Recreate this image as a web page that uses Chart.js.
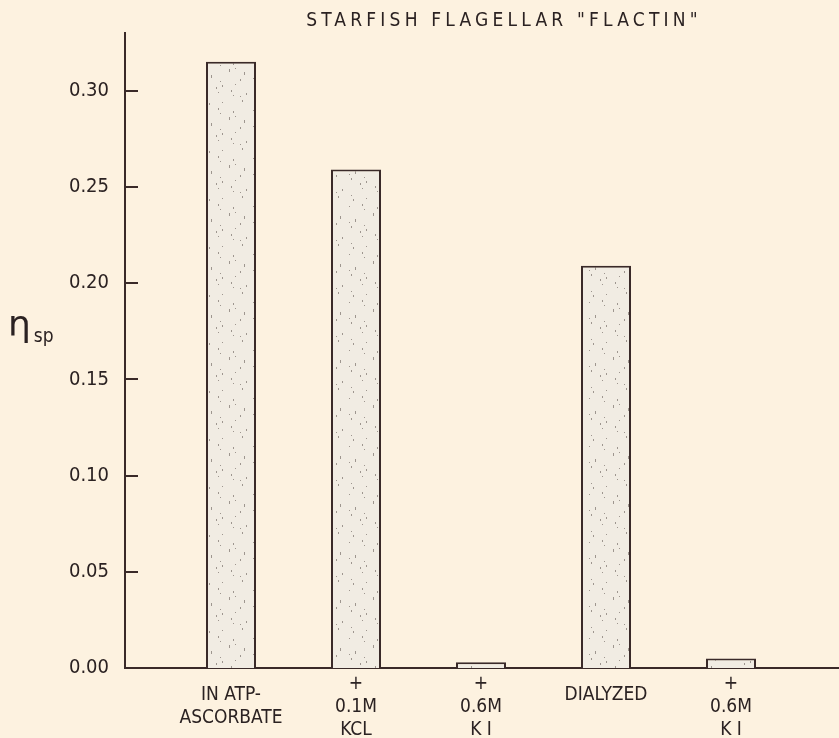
<!DOCTYPE html>
<html>
<head>
<meta charset="utf-8">
<script src="https://cdn.jsdelivr.net/npm/chart.js@4.4.0/dist/chart.umd.min.js"></script>
<style>
  html, body { margin: 0; padding: 0; background: #fdf2e0; }
  #wrap { position: relative; width: 839px; height: 738px; }
  #wrap canvas { position: absolute; left: 0; top: 0; }
  .title {
    position: absolute; left: 504px; top: 8px; transform: translateX(-50%);
    font-family: 'Liberation Sans Narrow', 'DejaVu Sans Condensed', sans-serif;
    font-size: 19px; letter-spacing: 4.2px; color: #2b2222; white-space: nowrap;
  }
  .ylabel {
    position: absolute; left: 8px; top: 306px;
    font-family: 'DejaVu Sans', sans-serif; font-size: 36px; color: #2b2222; line-height: 1;
  }
  .ylabel sub {
    font-family: 'Liberation Sans Narrow', 'DejaVu Sans Condensed', sans-serif;
    font-size: 19px; margin-left: 3px; vertical-align: -6px;
  }
</style>
</head>
<body>
<div id="wrap">
  <canvas id="flactinChart"></canvas>
  <div class="title">STARFISH FLAGELLAR "FLACTIN"</div>
  <div class="ylabel">η<sub>sp</sub></div>
</div>
<script>
// conditions along the x axis (one entry per bar, lines of the label)
const categories = [
    ['IN ATP-', 'ASCORBATE'],
    ['+', '0.1M', 'KCL'],
    ['+', '0.6M', 'K I'],
    ['DIALYZED'],
    ['+', '0.6M', 'K I']
];
// specific viscosity
const etaSp = [0.315, 0.259, 0.003, 0.209, 0.005];
// y axis range and step
const yRange = [0, 0.33];
const yStep = 0.05;

const ink = '#3a2a29';
const textInk = '#2b2222';
const narrowFont = "'Liberation Sans Narrow', 'DejaVu Sans Condensed', sans-serif";

// light stipple for the bars
function makeStipple() {
    const c = document.createElement('canvas');
    c.width = 48; c.height = 48;
    const g = c.getContext('2d');
    g.fillStyle = '#f1ece3';
    g.fillRect(0, 0, 48, 48);
    g.fillStyle = 'rgba(90, 80, 75, 0.55)';
    for (let k = 0; k < 40; k++) {
        const x = (k * 17 + (k % 5) * 7) % 48;
        const y = (k * 29 + (k % 3) * 11) % 48;
        g.fillRect(x, y, 1, 1);
    }
    return g.createPattern(c, 'repeat');
}

// short tick marks pointing into the plot, as in the original
const innerTicks = {
    id: 'innerTicks',
    afterDatasetsDraw(chart) {
        const y = chart.scales.y;
        const left = chart.chartArea.left;
        const ctx = chart.ctx;
        ctx.save();
        ctx.strokeStyle = ink;
        ctx.lineWidth = 2;
        y.ticks.forEach(t => {
            if (t.value === 0) return;
            const py = Math.round(y.getPixelForValue(t.value));
            ctx.beginPath();
            ctx.moveTo(left, py);
            ctx.lineTo(left + 13, py);
            ctx.stroke();
        });
        ctx.restore();
    }
};

document.addEventListener('DOMContentLoaded', () => {
    const ctx = document.getElementById('flactinChart');
    window.flactinChart = new Chart(ctx, {
        type: 'bar',
        data: {
            datasets: [{
                label: 'ηsp',
                data: etaSp.map((v, i) => ({ x: i + 1, y: v })),
                backgroundColor: makeStipple(),
                borderColor: ink,
                borderWidth: 2,
                barPercentage: 0.4,
                categoryPercentage: 1
            }]
        },
        options: {
            responsive: true,
            maintainAspectRatio: false,
            animation: false,
            layout: { padding: { top: 33, right: 0, bottom: 0, left: 0 } },
            plugins: {
                legend: { display: false },
                tooltip: { enabled: false }
            },
            scales: {
                x: {
                    type: 'linear',
                    offset: false,
                    min: 0.152,
                    max: 5.864,
                    grid: { display: false, drawTicks: false },
                    border: { color: ink, width: 2 },
                    afterFit: s => { s.height = 70; },
                    ticks: {
                        stepSize: 1,
                        includeBounds: false,
                        autoSkip: false,
                        maxRotation: 0,
                        crossAlign: 'center',
                        padding: 16,
                        color: textInk,
                        font: { family: narrowFont, size: 19, lineHeight: 1.2 },
                        callback: v => {
                            const lines = categories[v - 1];
                            if (!lines) return '';
                            return lines.length === 1 ? [lines[0], ''] : lines;
                        }
                    }
                },
                y: {
                    min: yRange[0],
                    max: yRange[1],
                    grid: { display: false, drawTicks: false },
                    border: { color: ink, width: 2 },
                    afterFit: s => { s.width = 125; },
                    ticks: {
                        stepSize: yStep,
                        includeBounds: false,
                        padding: 16,
                        color: textInk,
                        font: { family: narrowFont, size: 20 },
                        callback: v => v.toFixed(2)
                    }
                }
            }
        },
        plugins: [innerTicks]
    });
});
</script>
</body>
</html>
